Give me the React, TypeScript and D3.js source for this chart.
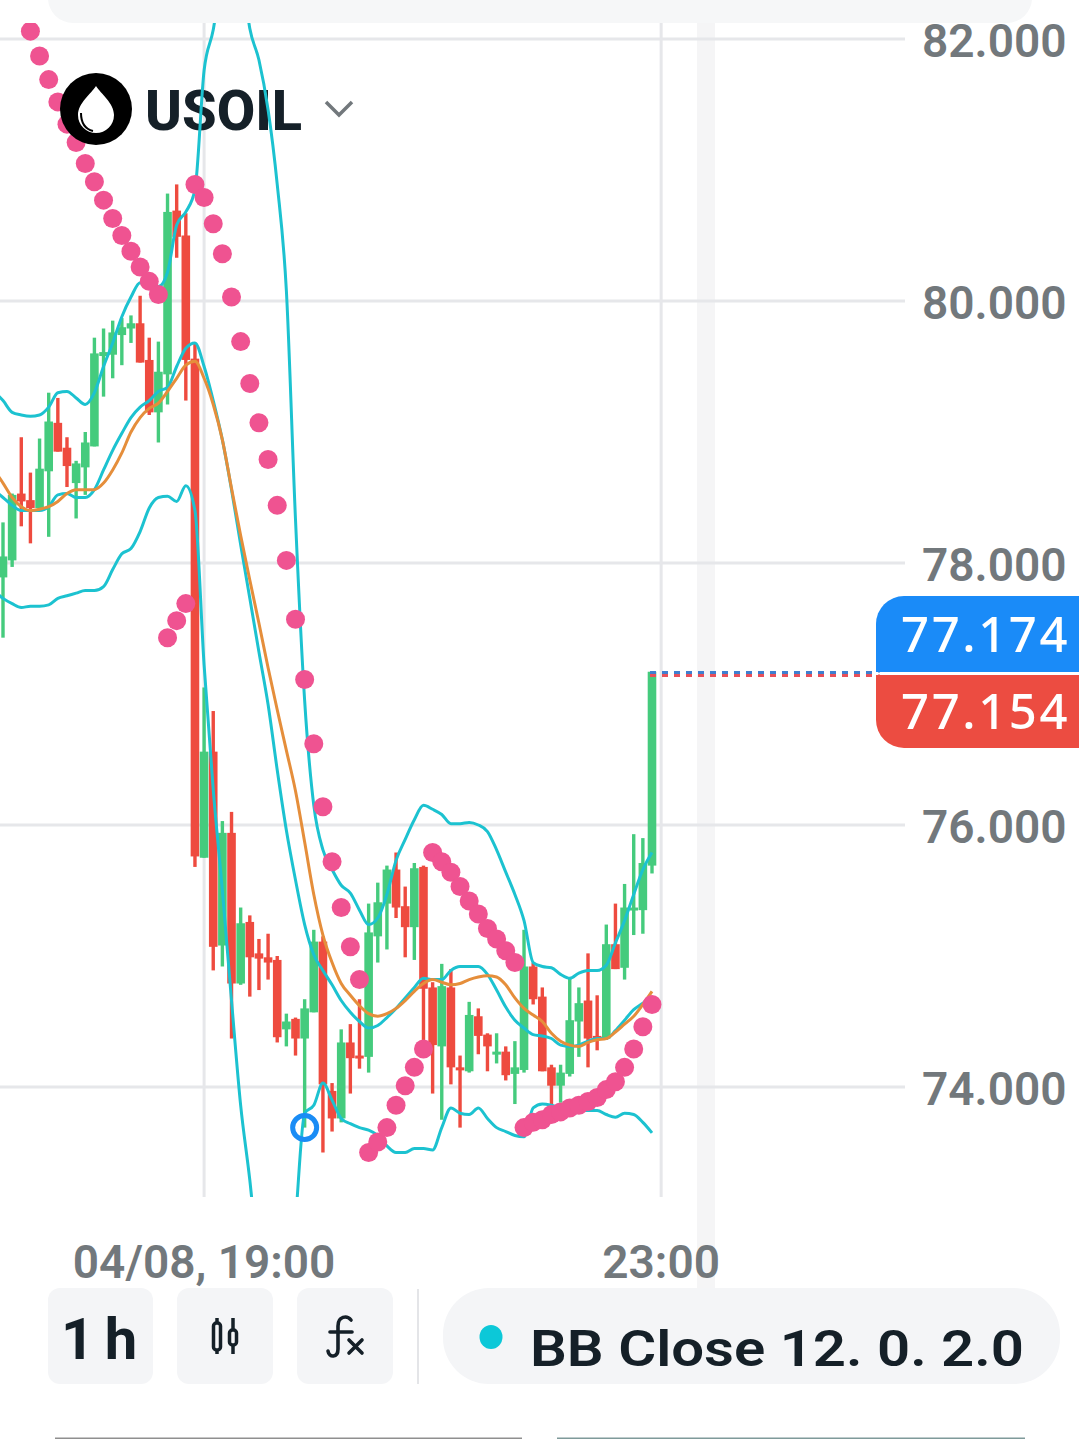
import React from "react";
import * as d3 from "d3";

const opens = [77.89,78.02,78.53,78.48,78.42,78.70,79.07,78.88,78.61,78.73,78.89,79.58,79.59,79.74,79.79,79.83,79.55,79.15,79.44,80.69,80.50,79.56,75.75,76.56,75.08,75.94,74.79,75.26,75.02,74.99,74.97,74.44,74.52,74.37,74.57,75.11,73.97,73.76,74.34,74.24,74.23,75.15,75.40,75.66,75.38,75.22,75.68,74.76,74.31,74.76,74.15,74.12,74.54,74.40,74.25,74.27,74.10,74.13,74.92,74.69,74.15,74.01,74.10,74.50,74.66,74.39,74.37,75.09,74.91,75.35,75.35,75.69];
const highs = [78.31,78.53,78.96,78.69,78.95,79.30,79.26,78.96,78.78,79.00,79.72,79.79,79.85,79.87,79.89,80.04,79.72,79.69,80.82,80.89,80.67,79.68,77.05,76.87,76.03,76.10,75.37,75.31,75.13,75.17,75.00,74.56,74.53,74.67,75.20,75.15,74.03,74.44,74.48,74.67,75.40,75.56,75.69,75.79,75.53,75.71,75.69,74.80,74.94,74.90,74.24,74.65,74.60,74.41,74.41,74.31,74.35,75.20,74.95,74.76,74.17,74.17,74.83,74.76,75.02,74.70,75.24,75.40,75.55,75.93,75.90,77.17];
const lows = [77.43,77.97,78.28,78.15,78.40,78.20,78.85,78.58,78.34,78.52,78.89,79.27,79.41,79.51,79.68,79.53,79.13,78.92,79.21,80.33,79.24,75.68,75.75,74.89,74.92,74.37,74.78,74.69,74.74,74.82,74.34,74.31,74.24,73.69,74.57,73.50,73.66,73.73,73.95,74.14,74.11,74.95,75.05,75.29,74.99,74.97,74.27,73.95,73.75,74.02,73.69,74.11,74.25,74.12,74.18,74.05,73.87,74.11,74.63,74.12,73.86,73.88,74.08,74.23,74.15,74.28,74.36,74.90,74.82,75.16,75.17,75.63];
const closes = [78.05,78.52,78.47,78.42,78.72,79.08,78.85,78.74,78.76,78.92,79.60,79.61,79.76,79.80,79.83,79.53,79.15,79.46,80.68,80.49,79.55,75.76,76.56,75.07,75.94,74.79,75.25,74.99,74.98,74.95,74.38,74.50,74.37,74.60,75.11,74.02,73.76,74.34,74.22,74.22,75.18,75.41,75.66,75.37,75.22,75.67,74.75,74.32,74.77,74.15,74.13,74.55,74.39,74.31,74.27,74.09,74.15,74.92,74.67,74.12,74.01,74.11,74.51,74.64,74.37,74.36,75.09,74.90,75.37,75.37,75.71,77.17];

// Line series start one bar before the first visible candle (index -1).
const bbUpper = [79.31,79.24,79.15,79.13,79.12,79.13,79.19,79.30,79.31,79.26,79.21,79.30,79.50,79.68,79.88,80.03,80.14,80.12,80.11,80.22,80.58,80.68,80.85,81.76,82.07,82.53,82.83,82.60,82.08,81.84,81.46,80.89,80.08,78.33,76.95,76.15,75.81,75.66,75.54,75.48,75.35,75.24,75.29,75.47,75.73,75.89,76.04,76.15,76.12,76.08,76.01,76.01,76.02,76.00,75.95,75.81,75.64,75.47,75.27,74.95,74.92,74.91,74.86,74.83,74.87,74.89,74.89,74.93,75.10,75.27,75.47,75.66,75.79];
const bbMiddle = [78.56,78.50,78.44,78.40,78.40,78.40,78.43,78.52,78.53,78.50,78.50,78.56,78.71,78.86,78.99,79.11,79.19,79.24,79.31,79.34,79.50,79.64,79.68,79.50,79.24,78.94,78.56,78.14,77.73,77.32,76.92,76.42,75.96,75.58,75.24,75.01,74.89,74.78,74.66,74.57,74.50,74.45,74.47,74.53,74.60,74.68,74.76,74.83,74.82,74.82,74.89,74.92,74.92,74.92,74.86,74.74,74.61,74.51,74.45,74.40,74.39,74.37,74.32,74.31,74.32,74.35,74.37,74.37,74.43,74.51,74.59,74.64,74.69];
const bbLower = [77.79,77.73,77.69,77.66,77.67,77.67,77.68,77.73,77.75,77.77,77.79,77.79,77.82,77.95,78.07,78.11,78.24,78.42,78.50,78.51,78.47,78.59,78.40,77.22,76.27,75.50,74.66,73.86,73.29,72.60,72.07,71.84,72.15,72.98,73.80,73.86,74.03,73.90,73.76,73.72,73.69,73.67,73.63,73.55,73.50,73.50,73.53,73.53,73.52,73.69,73.84,73.80,73.79,73.84,73.76,73.69,73.66,73.63,73.62,73.84,73.87,73.86,73.84,73.82,73.82,73.82,73.82,73.79,73.77,73.80,73.79,73.73,73.65];
const maLine = [78.71,78.61,78.50,78.43,78.40,78.41,78.43,78.47,78.53,78.56,78.56,78.56,78.61,78.71,78.84,79.00,79.11,79.18,79.22,79.31,79.41,79.51,79.54,79.41,79.21,78.94,78.57,78.21,77.87,77.54,77.20,76.88,76.57,76.26,75.87,75.47,75.16,74.95,74.79,74.70,74.62,74.56,74.54,74.56,74.60,74.66,74.73,74.79,74.82,74.80,74.78,74.79,74.82,74.84,74.85,74.84,74.78,74.68,74.60,74.55,74.50,74.41,74.35,74.32,74.31,74.34,74.36,74.37,74.42,74.48,74.54,74.63,74.73];
const sarStart = 3;
const sar = [82.06,81.87,81.69,81.52,81.35,81.21,81.05,80.91,80.77,80.63,80.50,80.38,80.26,80.15,80.05,77.43,77.56,77.69,80.89,80.79,80.59,80.36,80.03,79.69,79.37,79.07,78.79,78.44,78.02,77.57,77.11,76.62,76.14,75.72,75.37,75.07,74.82,73.50,73.58,73.69,73.86,74.01,74.15,74.29,75.79,75.72,75.64,75.53,75.42,75.32,75.21,75.13,75.04,74.95,73.69,73.73,73.75,73.79,73.81,73.84,73.86,73.89,73.92,73.98,74.04,74.15,74.29,74.46,74.63];

const yTicks = [82, 80, 78, 76, 74];
const xTicks = [{ index: 22, label: "04/08, 19:00" }, { index: 72, label: "23:00" }];
const askPrice = 77.174;
const bidPrice = 77.154;
const signal = { index: 33, price: 73.69 };

const GREEN = "#45cb7d";
const RED = "#ee4b3f";
const TEAL = "#1cc2d0";
const ORANGE = "#e58e3b";
const PINK = "#ef5391";
const GRID = "#e6e7ea";
const AXIS = "#72787c";
const DARK = "#152028";
const PANEL = "#f4f5f7";

const x = d3.scaleLinear().domain([0, 71]).range([3, 652]);
const y = d3.scaleLinear().domain([74, 82]).range([1087, 39]);
const lineGen = d3.line<number>().x((_, i) => x(i - 1)).y((d) => y(d)).curve(d3.curveMonotoneX);

const roboto = "Roboto, sans-serif";
const bbLines = [
  { values: bbUpper, color: TEAL },
  { values: bbLower, color: TEAL },
  { values: bbMiddle, color: TEAL },
  { values: maLine, color: ORANGE },
];

export default function App() {
  return (
    <svg width={1079} height={1439} viewBox="0 0 1079 1439" style={{ position: "absolute", left: 0, top: 0, background: "#fff" }}>
      <defs>
        <clipPath id="plot"><rect x={0} y={23} width={905} height={1174} /></clipPath>
      </defs>
      <rect x={48} y={-40} width={984} height={63} rx={25} fill="#f6f7f8" />
      <rect x={697} y={23} width={18} height={1265} fill="#f5f5f6" />
      {yTicks.map((t) => (
        <g key={t}>
          <line x1={0} x2={905} y1={y(t)} y2={y(t)} stroke={GRID} strokeWidth={3} />
          <text x={922} y={y(t) + 18} fontFamily={roboto} fontWeight={600} fontSize={46} fill={AXIS}>{t.toFixed(3)}</text>
        </g>
      ))}
      {xTicks.map((t) => (
        <g key={t.label}>
          <line x1={x(t.index)} x2={x(t.index)} y1={23} y2={1197} stroke={GRID} strokeWidth={3} />
          <text x={x(t.index)} y={1278} textAnchor="middle" fontFamily={roboto} fontWeight={600} fontSize={46} fill={AXIS}>{t.label}</text>
        </g>
      ))}
      <text x={145} y={130} fontFamily={roboto} fontWeight={800} fontSize={55} fill={DARK} textLength={157} lengthAdjust="spacingAndGlyphs">USOIL</text>
      <g clipPath="url(#plot)">
        {closes.map((c, i) => {
          const o = opens[i];
          const col = c >= o ? GREEN : RED;
          const top = y(Math.max(o, c));
          const h = Math.max(y(Math.min(o, c)) - top, 3);
          return (
            <g key={i}>
              <rect x={x(i) - 1.7} width={3.4} y={y(highs[i])} height={y(lows[i]) - y(highs[i])} fill={col} />
              <rect x={x(i) - 4.3} width={8.6} y={top} height={h} fill={col} />
            </g>
          );
        })}
        {bbLines.map((l, i) => (
          <path key={i} d={lineGen(l.values) ?? ""} fill="none" stroke={l.color} strokeWidth={3} />
        ))}
        {sar.map((v, i) => (
          <circle key={i} cx={x(i + sarStart)} cy={y(v)} r={9.5} fill={PINK} />
        ))}
        <circle cx={x(signal.index)} cy={y(signal.price)} r={12} fill="none" stroke="#1a8cf5" strokeWidth={5} />
      </g>

      {/* live price tags */}
      <line x1={650} x2={880} y1={672.5} y2={672.5} stroke="#3f7fd0" strokeWidth={3} strokeDasharray="6 6" />
      <line x1={650} x2={880} y1={675.5} y2={675.5} stroke="#e8505a" strokeWidth={3} strokeDasharray="6 6" />
      <path d="M1079 596 H904 a28 28 0 0 0 -28 28 V672 H1079 Z" fill="#1a8bf8" />
      <path d="M1079 675 H876 V720 a28 28 0 0 0 28 28 H1079 Z" fill="#ec4c41" />
      <text x={901} y={652} fontFamily="'Noto Sans', sans-serif" fontWeight={500} fontSize={49} fill="#fff" letterSpacing={2.6}>{askPrice.toFixed(3)}</text>
      <text x={901} y={729} fontFamily="'Noto Sans', sans-serif" fontWeight={500} fontSize={49} fill="#fff" letterSpacing={2.6}>{bidPrice.toFixed(3)}</text>
      <line x1={876} x2={1079} y1={673.5} y2={673.5} stroke="#fff" strokeWidth={2} strokeDasharray="6 6" />

      {/* symbol header */}
      <circle cx={96} cy={109} r={36} fill="#000" />
      <path d="M96 86 C91 94 78 103 78 115 A18 18 0 0 0 114 115 C114 103 101 94 96 86 Z" fill="#fff" />
      <path d="M81 113 C81 122 85 129 93 131" fill="none" stroke="#000" strokeWidth={2} />
      <polyline points="326,102 339,115 352,102" fill="none" stroke={AXIS} strokeWidth={3.5} />

      {/* bottom toolbar */}
      <rect x={48} y={1288} width={105} height={96} rx={12} fill={PANEL} />
      <rect x={177} y={1288} width={96} height={96} rx={12} fill={PANEL} />
      <rect x={297} y={1288} width={96} height={96} rx={12} fill={PANEL} />
      <rect x={417} y={1289} width={2} height={95} fill="#e4e5e8" />
      <rect x={443} y={1288} width={617} height={96} rx={46} fill={PANEL} />
      <text x={61} y={1359} fontFamily={roboto} fontWeight={700} fontSize={58} fill={DARK} letterSpacing={-2}>1 h</text>
      <g fill="none" stroke={DARK} strokeWidth={3.5}>
        <rect x={213.5} y={1323} width={7} height={27} rx={3} />
        <line x1={217} x2={217} y1={1318} y2={1323} />
        <line x1={217} x2={217} y1={1350} y2={1354} />
        <rect x={229.5} y={1330} width={7} height={15} rx={3} />
        <line x1={233} x2={233} y1={1318} y2={1330} />
        <line x1={233} x2={233} y1={1345} y2={1354} />
      </g>
      <g fill="none" stroke={DARK} strokeWidth={3.6} strokeLinecap="round">
        <path d="M351 1320 C347 1315 338 1316 338 1326 L338 1349 C338 1358 329 1358 328 1351" />
        <path d="M330 1332 H352" />
        <path d="M349 1340 L362 1353 M362 1340 L349 1353" />
      </g>
      <ellipse cx={491} cy={1337} rx={11.5} ry={12} fill="#0cc8d8" />
      <text x={530} y={1366} fontFamily={roboto} fontWeight={600} fontSize={50} fill={DARK} textLength={494} lengthAdjust="spacingAndGlyphs">BB Close 12. 0. 2.0</text>
      <rect x={55} y={1437.5} width={467} height={1.5} fill="#8f8f8f" />
      <rect x={557} y={1437.5} width={468} height={1.5} fill="#7f9a9a" />
    </svg>
  );
}
